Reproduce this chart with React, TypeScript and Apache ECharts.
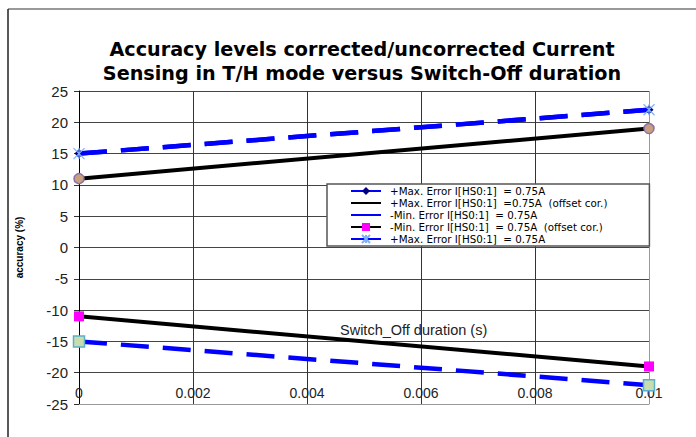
import React, { useEffect, useRef } from "react";
import * as echarts from "echarts";

const xValues = [0, 0.01];
const maxErr = [15, 22];
const maxErrCor = [11, 19];
const minErr = [-15, -22];
const minErrCor = [-11, -19];
const maxErr2 = [15, 22];

const seriesNames = [
  "+Max. Error I[HS0:1]  = 0.75A",
  "+Max. Error I[HS0:1]  =0.75A  (offset cor.)",
  "-Min. Error I[HS0:1]  = 0.75A",
  "-Min. Error I[HS0:1]  = 0.75A  (offset cor.)",
  "+Max. Error I[HS0:1]  = 0.75A ",
];

const titleText = "Accuracy levels corrected/uncorrected Current\nSensing in T/H mode versus Switch-Off duration";
const xName = "Switch_Off duration (s)";
const yName = "accuracy (%)";

const FONT = "'Liberation Sans', Arial, sans-serif";
const WIDE_FONT = "'DejaVu Sans', 'Liberation Sans', sans-serif";
const ASTERISK = "path://M0,0L10,10M10,0L0,10M5,0L5,10";

function pts(ys: number[]) {
  return xValues.map((x, i) => [x, ys[i]]);
}

export default function App() {
  const ref = useRef<HTMLDivElement>(null);
  useEffect(() => {
    if (!ref.current) return;
    const chart = echarts.init(ref.current, undefined, { renderer: "svg" });
    const blueDash = { color: "#0000ff", width: 4.5, type: [28, 14] as any, cap: "butt" as any };
    const black = { color: "#000000", width: 4 };
    chart.setOption({
      animation: false,
      backgroundColor: "#ffffff",
      textStyle: { fontFamily: FONT },
      title: {
        text: titleText,
        left: 357,
        textAlign: "center",
        top: 32,
        textStyle: { fontSize: 19.2, fontWeight: "bold", color: "#000", lineHeight: 24, fontFamily: WIDE_FONT },
      },
      grid: { left: 79, right: 47, top: 91, bottom: 33 },
      xAxis: {
        type: "value",
        min: 0,
        max: 0.01,
        interval: 0.002,
        axisLine: { show: true, onZero: false, lineStyle: { color: "#999", width: 1 } },
        axisTick: { show: false },
        axisLabel: {
          inside: true,
          margin: 4,
          fontSize: 14,
          color: "#222",
          fontFamily: FONT,
          formatter: (v: number) => String(Number(v.toFixed(4))),
        },
        splitLine: {
          show: true,
          lineStyle: { color: ["#000", "#333", "#333", "#333", "#333", "#999"], width: 1 },
        },
      },
      yAxis: {
        type: "value",
        min: -25,
        max: 25,
        interval: 5,
        name: yName,
        nameLocation: "middle",
        nameRotate: 90,
        nameGap: 55,
        nameTextStyle: { fontSize: 10, fontWeight: "bold", color: "#000", fontFamily: FONT },
        axisLine: { show: true, onZero: false, lineStyle: { color: "#000", width: 1 } },
        axisTick: { show: true, length: 5, lineStyle: { color: "#333" } },
        axisLabel: { margin: 11, fontSize: 15, color: "#222", fontFamily: FONT },
        splitLine: { show: true, lineStyle: { color: "#444", width: 1 } },
      },
      legend: {
        orient: "vertical",
        left: 327,
        top: 184,
        padding: [1, 42, 1, 23],
        itemWidth: 30,
        itemHeight: 10,
        itemGap: 0,
        backgroundColor: "#fff",
        borderColor: "#555",
        borderWidth: 1.5,
        borderRadius: 0,
        textStyle: { fontSize: 10.3, lineHeight: 12, color: "#000", padding: [0, 0, 0, 4], fontFamily: WIDE_FONT },
        data: [
          { name: seriesNames[0], lineStyle: { type: "solid" } },
          { name: seriesNames[1], itemStyle: { opacity: 0 } },
          { name: seriesNames[2], lineStyle: { type: "solid" }, itemStyle: { opacity: 0 } },
          { name: seriesNames[3] },
          { name: seriesNames[4], lineStyle: { type: "solid" } },
        ],
      },
      graphic: [
        { type: "line", shape: { x1: 8, y1: 9, x2: 696, y2: 9 }, style: { stroke: "#777", lineWidth: 1.5 }, z: 100 },
        { type: "line", shape: { x1: 8, y1: 9, x2: 8, y2: 437 }, style: { stroke: "#222", lineWidth: 1.5 }, z: 100 },
        {
          type: "text",
          left: 340,
          top: 322,
          style: { text: xName, fill: "#222", font: `14.5px ${FONT}` },
          z: 100,
        },
      ],
      series: [
        {
          name: seriesNames[3],
          type: "line",
          data: pts(minErrCor),
          clip: false,
          symbol: "rect",
          symbolSize: 10,
          lineStyle: black,
          itemStyle: { color: "#ff00ff" },
          z: 3,
        },
        {
          name: seriesNames[1],
          type: "line",
          data: pts(maxErrCor),
          clip: false,
          symbol: "circle",
          symbolSize: 10,
          lineStyle: black,
          itemStyle: { color: "#c9a07e", borderColor: "#8a70a8", borderWidth: 1.5 },
          z: 3,
        },
        {
          name: seriesNames[2],
          type: "line",
          data: pts(minErr),
          clip: false,
          symbol: "rect",
          symbolSize: 11,
          lineStyle: blueDash,
          itemStyle: { color: "#c8dcb0", borderColor: "#5ab0c8", borderWidth: 1.5 },
          z: 3,
        },
        {
          name: seriesNames[0],
          type: "line",
          data: pts(maxErr),
          clip: false,
          symbol: "diamond",
          symbolSize: 9,
          lineStyle: blueDash,
          itemStyle: { color: "#000080" },
          z: 4,
        },
        {
          name: seriesNames[4],
          type: "line",
          data: pts(maxErr2),
          clip: false,
          symbol: ASTERISK,
          symbolSize: 11,
          lineStyle: blueDash,
          itemStyle: { color: "#7fb0ff", borderColor: "#7fb0ff", borderWidth: 1.2 },
          z: 5,
        },
      ],
    });
    return () => chart.dispose();
  }, []);
  return (
    <div
      ref={ref}
      style={{ position: "fixed", left: 0, top: 0, width: 696, height: 437, background: "#fff" }}
    />
  );
}
